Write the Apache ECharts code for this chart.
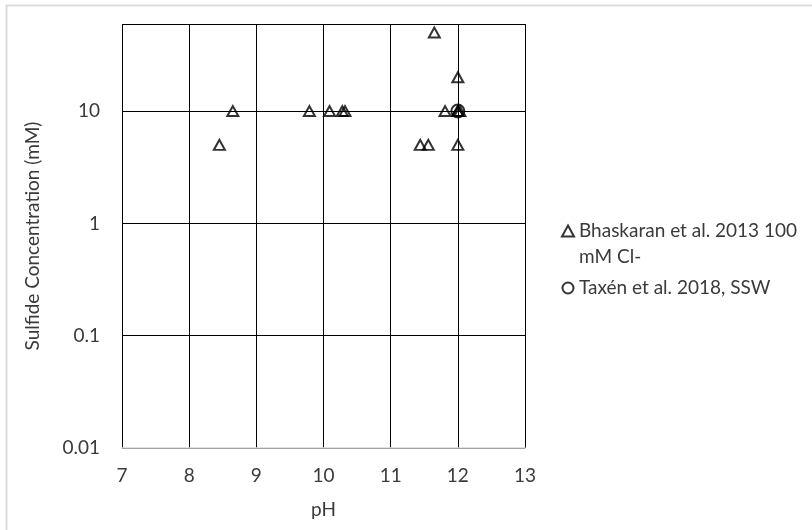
<!DOCTYPE html>
<html>
<head>
<meta charset="utf-8">
<script src="https://cdn.jsdelivr.net/npm/echarts@6/dist/echarts.min.js"></script>
<style>html,body{margin:0;padding:0;background:#fff}#c{width:812px;height:530px}</style>
</head>
<body>
<div id="c"></div>
<script>
var bhaskaranPH = [8.45, 8.65, 9.79, 10.09, 10.28, 10.32, 11.44, 11.56, 11.65, 11.81, 12.0, 12.0, 12.0, 12.03, 12.0];
var bhaskaranS  = [5, 10, 10, 10, 10, 10, 5, 5, 50, 10, 20, 10, 10, 10, 5];
var taxenPH = [12.0];
var taxenS  = [10];
var seriesNames = ['Bhaskaran et al. 2013 100 mM Cl-', 'Taxén et al. 2018, SSW'];
var xTicks = [7, 8, 9, 10, 11, 12, 13];
var yTicks = [0.01, 0.1, 1, 10];

function pairs(xs, ys){ return xs.map(function(x,i){ return [x, ys[i]]; }); }
var font = 'Lato, "Open Sans", sans-serif';
var txt = '#3a3a3a';
var tri = 'path://M5,0 L10,9 L0,9 Z';
var chart = echarts.init(document.getElementById('c'));
chart.setOption({
  animation: false,
  backgroundColor: '#fff',
  graphic: [{type:'rect', shape:{x:6.5, y:5.5, width:900, height:600}, style:{fill:'none', stroke:'#dcdcdc', lineWidth:2}, silent:true, z:-1}],
  grid: {left:122, right:287, top:24, bottom:82},
  xAxis: {
    type:'value', min:xTicks[0], max:xTicks[xTicks.length-1], interval:1,
    name:'pH', nameLocation:'middle', nameGap:52,
    nameTextStyle:{fontFamily:font, fontSize:19, color:txt},
    axisLine:{show:true, lineStyle:{color:'#d9d9d9', width:1.5}},
    axisTick:{show:false},
    axisLabel:{fontFamily:font, fontSize:19, color:txt, margin:18},
    splitLine:{show:true, lineStyle:{color:'#000', width:1}}
  },
  yAxis: {
    type:'log', logBase:10, min:yTicks[0], max:59.6,
    name:'Sulfide Concentration (mM)', nameLocation:'middle', nameGap:80,
    nameTextStyle:{fontFamily:font, fontSize:19, color:txt},
    axisLine:{show:false}, axisTick:{show:false},
    axisLabel:{fontFamily:font, fontSize:19, color:txt, margin:22, showMaxLabel:false,
      formatter:function(v){ var r = +(+v).toPrecision(6); return yTicks.indexOf(r)>=0 ? String(r) : ''; }},
    splitLine:{show:true, lineStyle:{color:'#000', width:1}}
  },
  legend: {
    orient:'vertical', left:556, top:187, itemGap:5, itemWidth:12, itemHeight:11, itemStyle:{borderWidth:2},
    textStyle:{fontFamily:font, fontSize:19, color:txt, lineHeight:26},
    formatter:function(name){
      var k = name.indexOf(' mM');
      return k > 0 ? '\n' + name.slice(0, k) + '\n' + name.slice(k + 1) : name;
    },
    data:[{name:seriesNames[0], icon:tri}, {name:seriesNames[1], icon:'circle'}]
  },
  series: [
    {name:seriesNames[0], type:'scatter', symbol:tri, symbolSize:[11,10],
     itemStyle:{color:'rgba(255,255,255,0)', borderColor:'#000', borderWidth:2},
     data:pairs(bhaskaranPH, bhaskaranS), z:3},
    {name:seriesNames[1], type:'scatter', symbol:'circle', symbolSize:13,
     itemStyle:{color:'rgba(255,255,255,0)', borderColor:'#000', borderWidth:2},
     data:pairs(taxenPH, taxenS), z:4}
  ]
});
</script>
</body>
</html>
